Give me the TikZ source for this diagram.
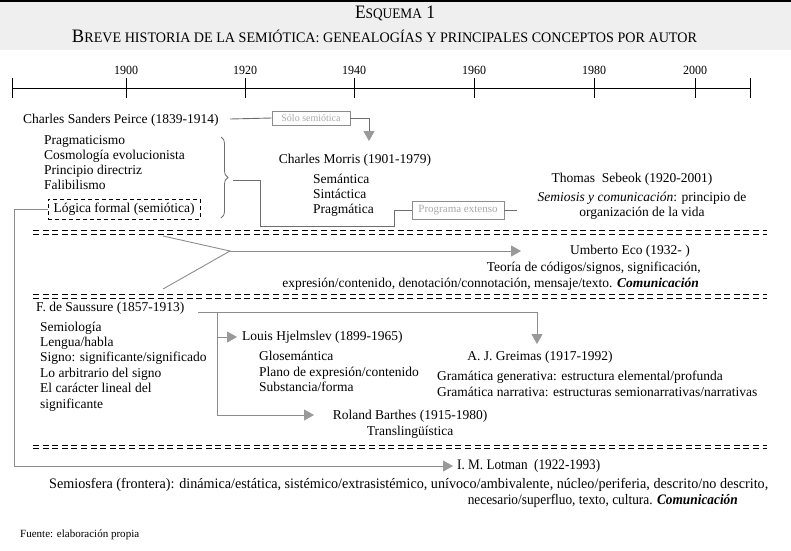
\documentclass[tikz,border=0pt]{standalone}
\usepackage{fontspec}
\setmainfont{Liberation Serif}
\usepackage{graphicx}
\usetikzlibrary{arrows.meta,decorations.pathreplacing}
\definecolor{lg}{HTML}{8C8C8C}
\definecolor{ag}{HTML}{999999}
\definecolor{bgc}{HTML}{EFEFEF}
\definecolor{boxt}{HTML}{A8A8A8}
\definecolor{dg}{HTML}{6E6E6E}
\newcommand\smc[1]{{\fontsize{14.5}{14.5}\selectfont #1}}
\begin{document}
\begin{tikzpicture}[x=1pt,y=-1pt,
  txt/.style={font=\fontsize{13.5}{15.5}\selectfont,inner sep=0pt,text height=9.3pt,text depth=2.9pt},
  conn/.style={draw=lg,line width=0.9pt},
  darkconn/.style={draw=dg,line width=0.9pt},
  arr/.style={-{Triangle[length=10pt,width=11pt,color=ag]}},
  dd/.style={line width=0.95pt,dash pattern=on 6pt off 3.6pt},
  gbox/.style={draw=lg,line width=0.8pt,inner sep=0pt,text=boxt},
  yr/.style={font=\fontsize{12.5}{12.5}\selectfont,inner sep=0pt}]

\useasboundingbox (0,0) rectangle (791,550);
\fill[bgc] (0,0) rectangle (791,50);
\draw[line width=1.5pt] (0,0.75) -- (791,0.75);

% titles
\node[inner sep=0pt] (t1) at (395,13) {\resizebox{80pt}{\height}{\fontsize{19}{19}\selectfont E\smc{SQUEMA} 1}};
\node[inner sep=0pt] (t2) at (384.5,36) {\resizebox{625pt}{\height}{\fontsize{19}{19}\selectfont B\smc{REVE HISTORIA DE LA SEMIÓTICA: GENEALOGÍAS Y PRINCIPALES CONCEPTOS POR AUTOR}}};

% timeline
\draw[line width=1pt] (12,88) -- (750,88);
\foreach \x in {12,126,245,354,474,594,695,750} \draw[line width=1pt] (\x,78) -- (\x,98);
\node[yr] (y1900) at (126,70) {\resizebox{24pt}{\height}{1900}};
\node[yr] (y1920) at (245,70) {\resizebox{24pt}{\height}{1920}};
\node[yr] (y1940) at (354,70) {\resizebox{24pt}{\height}{1940}};
\node[yr] (y1960) at (474,70) {\resizebox{24pt}{\height}{1960}};
\node[yr] (y1980) at (594,70) {\resizebox{24pt}{\height}{1980}};
\node[yr] (y2000) at (695,70) {\resizebox{24pt}{\height}{2000}};

% Peirce
\node[txt,anchor=west] (peirce) at (23,120) {Charles Sanders Peirce (1839-1914)};
\node[txt,anchor=west] (p1) at (44,141) {Pragmaticismo};
\node[txt,anchor=west] (p2) at (44,156) {Cosmología evolucionista};
\node[txt,anchor=west] (p3) at (44,171) {Principio directriz};
\node[txt,anchor=west] (p4) at (44,186) {Falibilismo};
\node[txt,draw,dash pattern=on 4pt off 3pt,line width=0.9pt,minimum width=152pt,minimum height=20pt] (logica) at (124,209) {Lógica formal (semiótica)};
\draw[draw=dg,line width=0.8pt,decorate,decoration={brace,amplitude=7pt}] (221,137) -- (221,218);
\coordinate (braceTip) at (233,180);

% Solo semiotica -> Morris
\node[gbox,font=\fontsize{10}{10}\selectfont,minimum width=78pt,minimum height=14pt] (solo) at (311,118) {Sólo semiótica};
\coordinate (peirceEnd) at (230,119);
\coordinate (morrisArr) at (369,141);
\draw[draw=dg,line width=0.9pt] (peirceEnd) -- (solo.west);
\draw[draw=dg,line width=0.9pt,arr] (solo.east) -| (morrisArr);

% Morris
\node[txt] (morris) at (355,160) {Charles Morris (1901-1979)};
\node[txt,anchor=west] (m1) at (313,180) {Semántica};
\node[txt,anchor=west] (m2) at (313,195) {Sintáctica};
\node[txt,anchor=west] (m3) at (313,210) {Pragmática};

% Programa extenso -> Sebeok
\node[gbox,font=\fontsize{11}{11}\selectfont,minimum width=92pt,minimum height=18pt] (prog) at (458,210) {Programa extenso};
\coordinate (b1) at (260,180);
\coordinate (b2) at (260,226);
\coordinate (b3) at (394,226);
\coordinate (b4) at (394,210);
\coordinate (sebL) at (517,210);
\draw[darkconn] (braceTip) -- (b1) -- (b2) -- (b3) -- (b4) -- (prog.west);
\draw[darkconn] (prog.east) -- (sebL);

% Sebeok
\node[txt] (sebeok) at (632,179) {Thomas\ \ Sebeok (1920-2001)};
\node[txt] (seb1) at (642,198) {\textit{Semiosis y comunicación}: principio de};
\node[txt] (seb2) at (642,213) {organización de la vida};

% separators
\draw[dd] (33,230.5) -- (767,230.5);
\draw[dd] (33,234) -- (767,234);
\draw[dd] (33,294.5) -- (767,294.5);
\draw[dd] (33,298) -- (767,298);
\draw[dd] (33,445) -- (767,445);
\draw[dd] (33,448.5) -- (767,448.5);

% Eco
\coordinate (eTop) at (163,236);
\coordinate (eBot) at (163,289);
\coordinate (eJ) at (230,251);
\coordinate (ecoArr) at (521,251);
\draw[conn] (eTop) -- (eJ) -- (eBot);
\draw[conn,arr] (eJ) -- (ecoArr);
\node[txt] (eco) at (630,251) {Umberto Eco (1932- )};
\node[txt,anchor=east] (eco1) at (701,268) {Teoría de códigos/signos, significación,};
\node[txt,anchor=east] (eco2) at (699,284) {expresión/contenido, denotación/connotación, mensaje/texto. \textbf{\textit{Comunicación}}};

% Saussure
\node[txt,anchor=west] (saussure) at (36,308) {F. de Saussure (1857-1913)};
\node[txt,anchor=west] (s1) at (40,328) {Semiología};
\node[txt,anchor=west] (s2) at (40,343) {Lengua/habla};
\node[txt,anchor=west] (s3) at (40,358) {Signo: significante/significado};
\node[txt,anchor=west] (s4) at (40,374) {Lo arbitrario del signo};
\node[txt,anchor=west] (s5) at (40,389) {El carácter lineal del};
\node[txt,anchor=west] (s6) at (40,405) {significante};

\coordinate (sStart) at (198,312);
\coordinate (sBr) at (217,312);
\coordinate (sHj) at (217,337);
\coordinate (sBa) at (217,415);
\coordinate (greArr) at (537,344);
\coordinate (hjArr) at (237,337);
\coordinate (baArr) at (314,415);
\draw[conn,arr] (sStart) -| (greArr);
\draw[conn] (sBr) -- (sBa);
\draw[conn,arr] (sHj) -- (hjArr);
\draw[conn,arr] (sBa) -- (baArr);

% Hjelmslev
\node[txt,anchor=west] (hjel) at (242,337) {Louis Hjelmslev (1899-1965)};
\node[txt,anchor=west] (h1) at (259,357) {Glosemántica};
\node[txt,anchor=west] (h2) at (259,373) {Plano de expresión/contenido};
\node[txt,anchor=west] (h3) at (259,388) {Substancia/forma};

% Greimas
\node[txt] (greimas) at (540,357) {A. J. Greimas (1917-1992)};
\node[txt,anchor=west] (g1) at (437,377) {Gramática generativa: estructura elemental/profunda};
\node[txt,anchor=west] (g2) at (437,393) {Gramática narrativa: estructuras semionarrativas/narrativas};

% Barthes
\node[txt] (barthes) at (410,416) {Roland Barthes (1915-1980)};
\node[txt] (bar1) at (410,432) {Translingüística};

% Lotman
\coordinate (lL1) at (14,209);
\coordinate (lL2) at (14,466);
\coordinate (lotArr) at (453,466);
\draw[conn,arr] (logica.west) -- (lL1) -- (lL2) -- (lotArr);
\node[txt,anchor=west] (lotman) at (457,466) {\resizebox{143pt}{\height}{\fontsize{14.5}{15}\selectfont I. M. Lotman\ \ (1922-1993)}};
\node[txt,anchor=west] (lot1) at (49,485) {\resizebox{719pt}{\height}{\fontsize{14.5}{15}\selectfont Semiosfera (frontera): dinámica/estática, sistémico/extrasistémico, unívoco/ambivalente, núcleo/periferia, descrito/no descrito,}};
\node[txt,anchor=east] (lot2) at (738,501) {\resizebox{270pt}{\height}{\fontsize{14.5}{15}\selectfont necesario/superfluo, texto, cultura. \textbf{\textit{Comunicación}}}};

% source
\node[inner sep=0pt,anchor=west] (fuente) at (20,535) {\resizebox{119pt}{\height}{\fontsize{11}{11}\selectfont Fuente: elaboración propia}};
\end{tikzpicture}
\end{document}
